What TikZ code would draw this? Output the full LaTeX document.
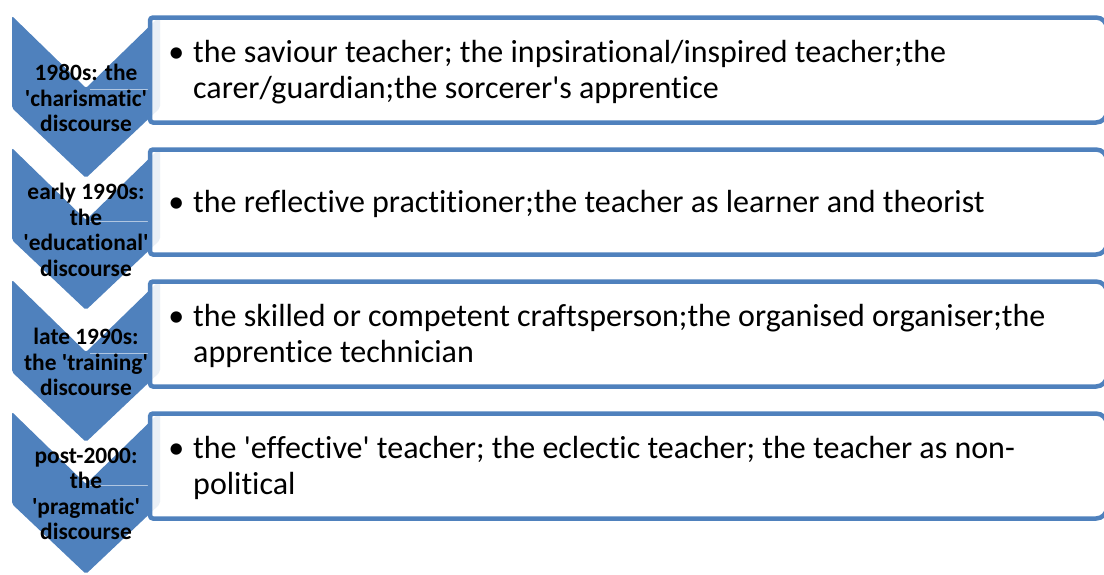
\documentclass[tikz,border=0pt]{standalone}
\usepackage{fontspec}
\setmainfont{Carlito}[Ligatures={NoCommon}]
\newcommand\straightq{\textquotesingle}
\definecolor{accent}{RGB}{79,129,189}
\begin{document}
\begin{tikzpicture}[x=1pt,y=-1pt,
  chevron/.style={fill=accent, rounded corners=2pt},
  stagebox/.style={draw=accent, line width=4.5pt, fill=white, fill opacity=0.88},
  seam/.style={draw=accent!45!white, line width=0.8pt},
  stagelabel/.style={font=\bfseries\fontsize{23.4}{25.5}\selectfont, align=center, inner sep=0pt},
  itemtext/.style={font=\fontsize{32}{36}\selectfont, align=left, anchor=west, inner sep=0pt}
]
\useasboundingbox (0,0) rectangle (1104,574);

% chevrons down the left side
\foreach \t in {16,148,280,412} {
  \fill[chevron] (12,\t) -- (86,\t+72) -- (160,\t) -- (160,\t+92) -- (86,\t+162) -- (12,\t+92) -- cycle;
}

% faint seams from the chevrons to the boxes
\foreach \i/\t in {1/16,2/148,3/280,4/412} {
  \coordinate (n\i) at (90,\t+73);
  \coordinate (m\i) at (148,\t+73);
  \draw[seam] (n\i) -- (m\i);
}

% description boxes, rounded on the right
\foreach \t in {16,148,280,412} {
  \path[stagebox] (150,\t+106.5) [rounded corners=3pt] -- (150,\t+1.5) [rounded corners=11pt] -- (1107,\t+1.5) -- (1107,\t+106.5) [rounded corners=3pt] -- cycle;
}

% stage labels
\node[stagelabel] (s1) at (86,98) {1980s: the\\\straightq charismatic\straightq\\discourse};
\node[stagelabel] (s2) at (86,230) {early 1990s:\\the\\\straightq educational\straightq\\discourse};
\node[stagelabel] (s3) at (86,362) {late 1990s:\\the \straightq training\straightq\\discourse};
\node[stagelabel] (s4) at (86,494) {post-2000:\\the\\\straightq pragmatic\straightq\\discourse};

% descriptions
\node[itemtext] (d1) at (193,72) {\llap{\textbullet\hspace{9pt}}the saviour teacher; the inpsirational/inspired teacher;the\\carer/guardian;the sorcerer\straightq s apprentice};
\node[itemtext] (d2) at (193,204) {\llap{\textbullet\hspace{9pt}}the reflective practitioner;the teacher as learner and theorist};
\node[itemtext] (d3) at (193,336) {\llap{\textbullet\hspace{9pt}}the skilled or competent craftsperson;the organised organiser;the\\apprentice technician};
\node[itemtext] (d4) at (193,468) {\llap{\textbullet\hspace{9pt}}the \straightq effective\straightq{} teacher; the eclectic teacher; the teacher as non-\\political};
\end{tikzpicture}
\end{document}
